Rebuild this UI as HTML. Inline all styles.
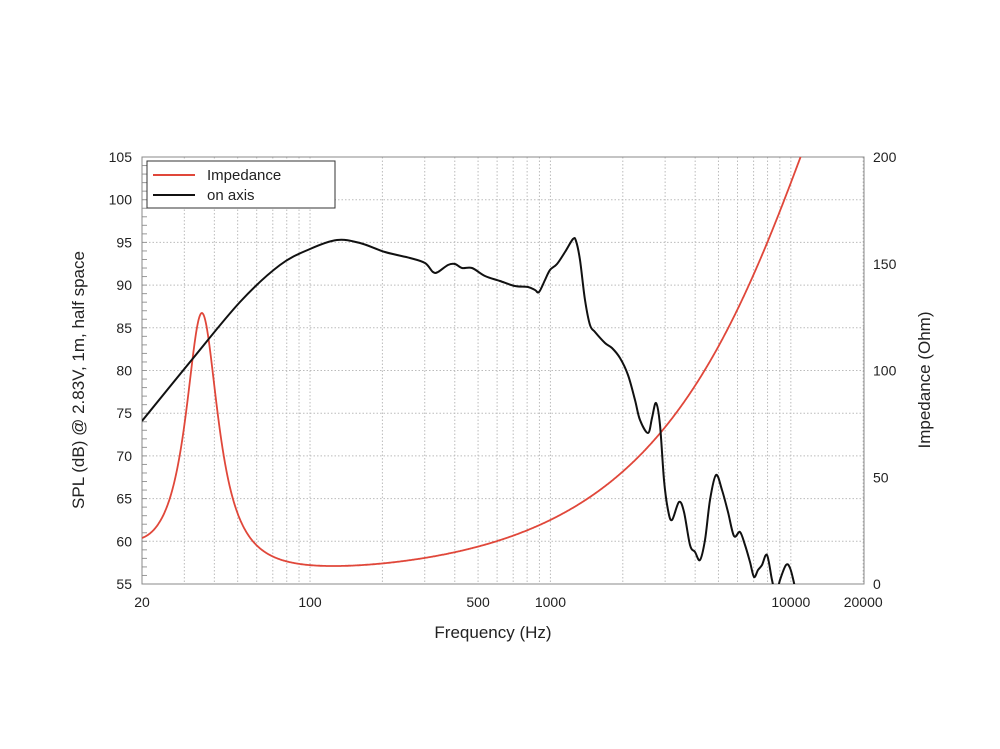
<!DOCTYPE html>
<html><head><meta charset="utf-8"><style>
body{margin:0;background:#fff;}
svg{display:block;font-family:"Liberation Sans",sans-serif;}
</style></head><body>
<svg id="s" width="1000" height="749" viewBox="0 0 1000 749" xmlns="http://www.w3.org/2000/svg">
<defs><clipPath id="c"><rect x="142" y="157" width="722" height="427"/></clipPath></defs>
<g id="grid"></g>
<rect x="142" y="157" width="722" height="427" fill="none" stroke="#888" stroke-width="1"/>
<g id="lab" font-size="14" fill="#222"></g>
<g clip-path="url(#c)">
<path id="red" fill="none" stroke="#e0473a" stroke-width="1.8"/>
<path id="blk" fill="none" stroke="#111" stroke-width="2"/>
</g>
<rect x="147" y="161" width="188" height="47" fill="#fff" stroke="#333" stroke-width="1"/>
<line x1="153" y1="175" x2="195" y2="175" stroke="#e0473a" stroke-width="2"/>
<line x1="153" y1="195" x2="195" y2="195" stroke="#111" stroke-width="2"/>
<text x="207" y="180" font-size="15" fill="#222">Impedance</text>
<text x="207" y="200" font-size="15" fill="#222">on axis</text>
<text x="493" y="638" font-size="17" fill="#222" text-anchor="middle">Frequency (Hz)</text>
<text transform="translate(84,380) rotate(-90)" font-size="17" fill="#222" text-anchor="middle">SPL (dB) @ 2.83V, 1m, half space</text>
<text transform="translate(930,380) rotate(-90)" font-size="17" fill="#222" text-anchor="middle">Impedance (Ohm)</text>
</svg>
<script>
var NS="http://www.w3.org/2000/svg";
function el(p,t,a,txt){var e=document.createElementNS(NS,t);for(var k in a)e.setAttribute(k,a[k]);if(txt!=null)e.textContent=txt;document.getElementById(p).appendChild(e);return e;}
function X(f){return 142+240.4*Math.log10(f/20);}
[20,30,40,50,60,70,80,90,100,200,300,400,500,600,700,800,900,1000,2000,3000,4000,5000,6000,7000,8000,9000,10000,20000].forEach(function(f){
 var x=X(f);el("grid","line",{x1:x,x2:x,y1:157,y2:584,stroke:"#bbb","stroke-dasharray":"1.5,2","stroke-width":1});
});
for(var i=0;i<=10;i++){var y=157+i*42.7;el("grid","line",{x1:142,x2:864,y1:y,y2:y,stroke:"#bbb","stroke-dasharray":"1.5,2","stroke-width":1});
 el("lab","text",{x:132,y:y+5,"text-anchor":"end"},String(105-5*i));}
for(var i=0;i<50;i++){var y=157+i*8.54;el("grid","line",{x1:142,x2:147,y1:y,y2:y,stroke:"#999"});}
for(var i=0;i<=4;i++){var y=584-i*106.75;el("lab","text",{x:873,y:y+5},String(50*i));}
[[20,"20"],[100,"100"],[500,"500"],[1000,"1000"],[10000,"10000"],[20000,"20000"]].forEach(function(a){el("lab","text",{x:X(a[0]),y:607,"text-anchor":"middle"},a[1]);});
function cr(p){var d="M"+p[0][0]+","+p[0][1];for(var i=0;i<p.length-1;i++){var p0=p[i-1]||p[i],p1=p[i],p2=p[i+1],p3=p[i+2]||p2;
 d+=" C"+(p1[0]+(p2[0]-p0[0])/6).toFixed(1)+","+(p1[1]+(p2[1]-p0[1])/6).toFixed(1)+" "+(p2[0]-(p3[0]-p1[0])/6).toFixed(1)+","+(p2[1]-(p3[1]-p1[1])/6).toFixed(1)+" "+p2[0]+","+p2[1];}return d;}
var blk=[[142,421],[190,362],[240,302],[280,265],[310,249],[337,240],[360,243],[385,252],[410,258],[425,263],[433,272],[438,272],[448,265],[455,264],[462,268],[472,268],[485,276],[500,281],[515,286],[528,287],[535,290],[539,292],[545,280],[550,270],[557,264],[565,252],[573,239],[576,241],[580,260],[585,300],[590,325],[595,332],[605,343],[612,348],[620,358],[628,375],[635,400],[640,420],[648,433],[652,418],[656,403],[660,425],[664,480],[668,510],[672,520],[679,502],[684,512],[690,545],[695,552],[700,560],[705,540],[710,500],[716,475],[722,490],[728,512],[734,536],[740,532],[745,545],[750,562],[754,577],[758,570],[762,565],[767,555],[772,580],[776,595],[780,580],[786,565],[790,568],[794,583],[796,595]];
document.getElementById("blk").setAttribute("d",cr(blk));
var d="";
for(var x=142;x<=820;x+=0.5){var f=20*Math.pow(10,(x-142)/240.4);var fs=35.5,Q=2.6,u=f/fs-fs/f;
 var z=2+122/(1+Q*Q*u*u)+2.2*Math.pow(30/f,3)+0.0737*Math.pow(f,0.86)/(1+Math.pow(f/33000,2));var y=584-z*2.135;d+=(d?" L":"M")+x.toFixed(1)+","+y.toFixed(1);}
document.getElementById("red").setAttribute("d",d);
</script>
</body></html>
